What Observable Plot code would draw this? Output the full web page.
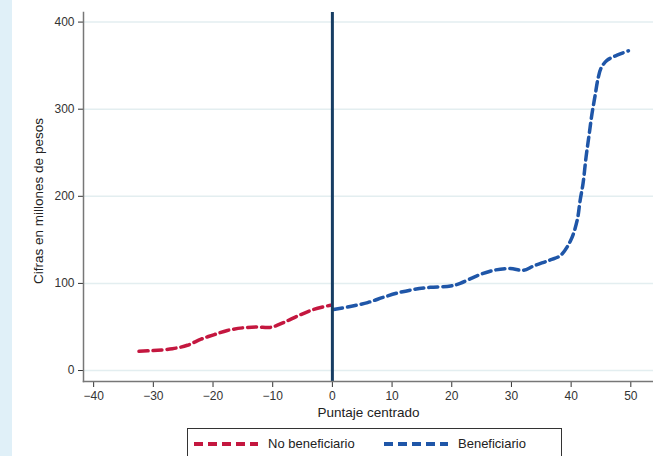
<!DOCTYPE html>
<html>
<head>
<meta charset="utf-8">
<script src="https://cdn.jsdelivr.net/npm/d3@7"></script>
<script src="https://cdn.jsdelivr.net/npm/@observablehq/plot@0.6"></script>
<style>
  html, body { margin: 0; padding: 0; background: #ffffff; }
  body { width: 653px; height: 456px; position: relative; overflow: hidden; font-family: "Liberation Sans", Arial, sans-serif; }
  #strip { position: absolute; left: 0; top: 0; width: 12px; height: 456px; background: #e0f0f8; }
  #chart { position: absolute; left: 0; top: 0; }
  #legend { position: absolute; left: 187px; top: 428px; width: 375px; height: 40px; border: 1px solid #333; box-sizing: border-box; background: #fff; font-size: 13px; color: #222; }
  .item { position: absolute; top: 7px; display: flex; align-items: center; }
  .item svg { margin-right: 10px; }
</style>
</head>
<body>
<div id="strip"></div>
<div id="chart"></div>
<div id="legend">
  <div class="item" style="left:6px"><svg width="64" height="8"><line x1="0" y1="4" x2="64" y2="4" stroke="#c4173f" stroke-width="4" stroke-dasharray="9,5"/></svg>No beneficiario</div>
  <div class="item" style="left:196px"><svg width="64" height="8"><line x1="0" y1="4" x2="64" y2="4" stroke="#1f56a8" stroke-width="4" stroke-dasharray="9,5"/></svg>Beneficiario</div>
</div>
<script>
const noBenX = [-32.4, -30, -26.8, -24.3, -22, -19.9, -17.6, -15, -12.6, -10.4, -8.2, -5.7, -3.2, -0.3];
const noBenY = [22, 23, 25, 29, 36, 41, 46, 49, 50, 49.5, 55, 63, 70, 75];
const benX = [0.2, 3, 5.9, 8.5, 10.9, 13.6, 16.4, 19.8, 21.4, 24.3, 27, 29.8, 32, 33.7, 36.5, 38.2, 39.9, 41, 41.5, 42, 42.5, 43, 43.5, 44, 44.5, 45, 46, 47.7, 49.6];
const benY = [70, 73.5, 78, 84, 89, 93, 95.5, 97, 100, 109, 115, 117, 115, 120, 127, 132, 149, 172, 195, 215, 245, 270, 295, 315, 335, 347, 356, 362, 367];
const xTicks = [-40, -30, -20, -10, 0, 10, 20, 30, 40, 50];
const yTicks = [0, 100, 200, 300, 400];
const yTitle = "Cifras en millones de pesos";
const xTitle = "Puntaje centrado";

const noBen = noBenX.map((x, i) => ({x, y: noBenY[i]}));
const ben = benX.map((x, i) => ({x, y: benY[i]}));

const chart = Plot.plot({
  width: 653,
  height: 425,
  marginLeft: 83,
  marginRight: 0,
  marginTop: 12,
  marginBottom: 44,
  style: {fontFamily: "Liberation Sans, Arial, sans-serif", fontSize: "12px", color: "#333", background: "transparent"},
  x: {domain: [-41.7, 53.8]},
  y: {domain: [-12.6, 411]},
  marks: [
    Plot.ruleY(yTicks, {stroke: "#e3eef0", strokeWidth: 1.5}),
    Plot.line(noBen, {x: "x", y: "y", stroke: "#c4173f", strokeWidth: 3.5, strokeDasharray: "9,5", curve: "catmull-rom"}),
    Plot.line(ben, {x: "x", y: "y", stroke: "#1f56a8", strokeWidth: 3.5, strokeDasharray: "9,5", curve: "catmull-rom"}),
    Plot.ruleX([0], {stroke: "#173d63", strokeWidth: 3}),
    Plot.axisY({ticks: yTicks, tickSize: 5, tickPadding: 4, stroke: "#333", fill: "#333", fontSize: 12, label: null}),
    Plot.axisX({ticks: xTicks, tickSize: 6, tickPadding: 4, stroke: "#333", fill: "#333", fontSize: 12, label: null}),
    Plot.text([yTitle], {frameAnchor: "left", textAnchor: "middle", dx: -45, dy: 4, rotate: -90, text: d => d, fontSize: 13.5, fill: "#222"}),
    Plot.text([xTitle], {frameAnchor: "bottom", dy: 31, text: d => d, fontSize: 13.5, fill: "#222", lineAnchor: "middle"}),
    Plot.frame({anchor: "left", stroke: "#777", strokeWidth: 1.5}),
    Plot.frame({anchor: "bottom", stroke: "#777", strokeWidth: 1.5})
  ]
});
document.getElementById("chart").appendChild(chart);
</script>
</body>
</html>
